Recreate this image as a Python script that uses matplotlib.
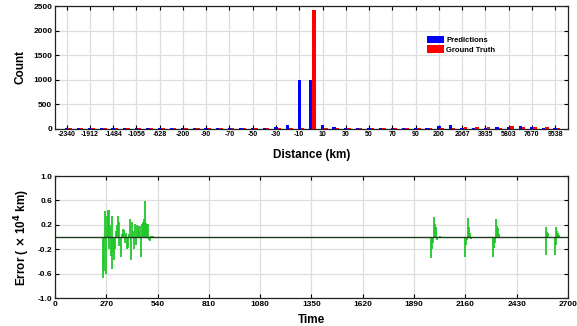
import numpy as np
import matplotlib.pyplot as plt

plt.rcParams['font.family'] = ['Liberation Sans', 'DejaVu Sans']
plt.rcParams['font.weight'] = 'bold'

# histogram bins (km) - labelled every other bin
bins = [-2340, -2126, -1912, -1698, -1484, -1270, -1056, -842, -628, -414, -200,
        -145, -90, -80, -70, -60, -50, -40, -30, -20, -10, 0, 10, 20, 30, 40,
        50, 60, 70, 80, 90, 145, 200, 1133, 2067, 3001, 3935, 4869, 5803, 6737,
        7670, 8604, 9538]
pred = [8, 6, 8, 6, 8, 6, 10, 8, 10, 8, 10, 8, 10, 8, 10, 10, 10, 12, 35, 70,
        1000, 1000, 65, 25, 10, 8, 10, 8, 8, 6, 8, 10, 45, 65, 20, 10, 10, 25,
        25, 45, 25, 10, 5]
truth = [4, 4, 4, 4, 4, 4, 4, 4, 4, 4, 4, 4, 4, 4, 4, 4, 4, 4, 4, 4,
         4, 2420, 4, 4, 4, 4, 4, 4, 4, 4, 4, 4, 4, 10, 25, 25, 25, 12,
         45, 25, 25, 25, 3]

# error over time (x10^4 km)
time = [254, 259, 265, 268, 272, 277, 282, 286, 289, 293, 298, 302, 307, 310,
        316, 321, 324, 330, 335, 338, 346, 351, 356, 363, 368, 373, 380, 386,
        391, 396, 400, 405, 410, 416, 419, 426, 431, 437, 442, 447, 452, 458,
        463, 468, 473, 479, 484, 489, 494, 500, 505, 510, 517,
        1980, 1985, 1990, 1994, 1999, 2004, 2008, 2013, 2020, 2025, 2032,
        2158, 2164, 2169, 2174, 2179, 2185, 2190, 2195,
        2306, 2311, 2316, 2321, 2327, 2332, 2337, 2342,
        2583, 2586, 2592, 2597,
        2630, 2635, 2639, 2642, 2647, 2653]
error = [-0.67, -0.55, 0.42, -0.6, 0.35, 0.45, 0.45, -0.2, 0.2, -0.3, -0.52,
         0.34, -0.25, -0.37, -0.2, 0.1, 0.2, 0.35, -0.15, 0.25, -0.32, 0.05,
         0.13, 0.12, -0.1, 0.07, -0.2, -0.17, 0.05, 0.3, -0.37, 0.25, 0.1,
         -0.2, 0.22, -0.12, 0.2, 0.18, 0.1, 0.18, -0.32, 0.22, 0.25, 0.3,
         0.59, 0.23, 0.22, 0.22, -0.05, -0.07, 0.02, 0.02, 0.02,
         -0.34, -0.2, -0.1, 0.33, 0.22, 0.16, 0.06, -0.04, -0.02, 0.02, 0.01,
         -0.33, -0.13, -0.05, 0.31, 0.17, 0.07, -0.03, 0.01,
         -0.33, -0.17, -0.1, 0.3, 0.18, 0.15, 0.05, 0.01,
         -0.29, 0.17, 0.08, 0.06,
         -0.29, 0.17, -0.12, 0.1, 0.06, 0.03]

fig = plt.figure(figsize=(5.77, 3.26), dpi=100)

# ---- top: distance histogram ----
ax1 = fig.add_axes([0.0953, 0.6055, 0.889, 0.376])
idx = np.arange(len(bins))
ax1.bar(idx, pred, width=0.3, color='#0000ff', label='Predictions', zorder=3)
ax1.bar(idx + 0.28, truth, width=0.3, color='#ff0000', label='Ground Truth', zorder=3)
ax1.set_xlim(-1, 43.1)
ax1.set_ylim(0, 2500)
ax1.set_yticks([0, 500, 1000, 1500, 2000, 2500])
ax1.set_xticks(idx[::2])
ax1.set_xticklabels([str(b) for b in bins[::2]], fontsize=5, fontweight='bold')
ax1.tick_params(axis='y', labelsize=6)
ax1.set_ylabel('Count', fontsize=8.5, fontweight='bold')
ax1.yaxis.set_label_coords(-0.056, 0.5)
ax1.set_xlabel('Distance (km)', fontsize=8.5, fontweight='bold')
ax1.xaxis.set_label_coords(0.5, -0.17)
ax1.legend(loc='upper left', bbox_to_anchor=(0.715, 0.80), frameon=False,
           fontsize=5.5, handlelength=2.2, handleheight=1.1,
           handletextpad=0.3, labelspacing=0.15, borderpad=0.2)

# ---- bottom: error over time ----
ax2 = fig.add_axes([0.0953, 0.085, 0.889, 0.375])
ax2.vlines(time, 0, error, color='#22c72a', linewidth=1.3, zorder=3)
ax2.axhline(0, color='#1d3a1d', linewidth=1.0, zorder=4)
ax2.set_xlim(0, 2700)
ax2.set_ylim(-1, 1)
ax2.set_xticks(np.arange(0, 2701, 270))
ax2.set_yticks([-1.0, -0.6, -0.2, 0.2, 0.6, 1.0])
ax2.set_yticklabels(['-1.0', '-0.6', '-0.2', '0.2', '0.6', '1.0'])
ax2.tick_params(labelsize=6)
ax2.set_xlabel('Time', fontsize=8.5, fontweight='bold')
ax2.xaxis.set_label_coords(0.5, -0.13)
ax2.set_ylabel(r'Error ( $\times$ 10$^{\bf 4}$ km)', fontsize=8.5, fontweight='bold')
ax2.yaxis.set_label_coords(-0.044, 0.5)

for ax in (ax1, ax2):
    ax.grid(True, color='#dedede', linewidth=0.9, zorder=0)
    ax.set_axisbelow(True)
    ax.tick_params(direction='in', top=True, right=True, length=3, width=0.8,
                   pad=2, colors='black')
    for s in ax.spines.values():
        s.set_linewidth(0.9)
        s.set_color('#222222')
    for lbl in ax.get_xticklabels() + ax.get_yticklabels():
        lbl.set_fontweight('bold')

fig.savefig('out.png', dpi=100)
